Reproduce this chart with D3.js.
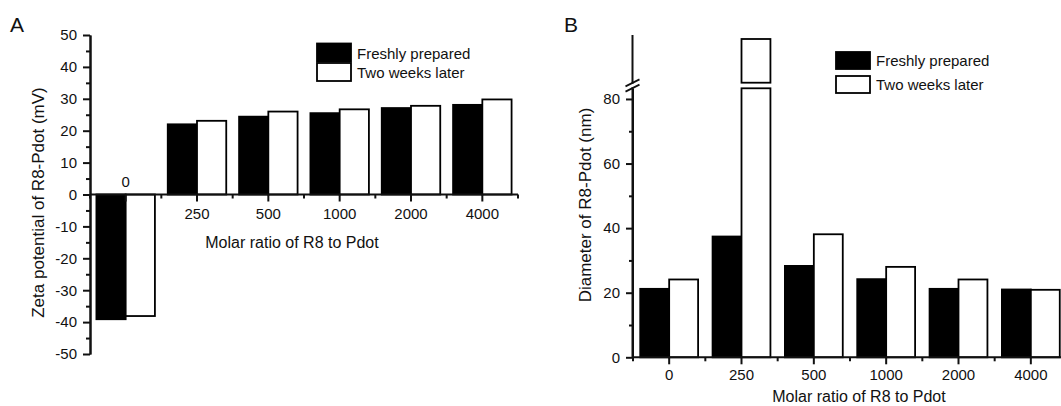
<!DOCTYPE html>
<html>
<head>
<meta charset="utf-8">
<script src="https://cdn.jsdelivr.net/npm/d3@7"></script>
<style>
  body { margin: 0; background: #fff; }
  svg text { font-family: "Liberation Sans", Arial, sans-serif; fill: #111; }
</style>
</head>
<body>
<div id="chart"></div>
<script>
const ratios = ["0", "250", "500", "1000", "2000", "4000"];
const seriesNames = ["Freshly prepared", "Two weeks later"];
const seriesFill = ["#000", "#fff"];

// panel A: zeta potential (mV)
const zetaFresh = [-39.1, 22.0, 24.4, 25.5, 27.1, 28.1];
const zetaLater = [-38.1, 23.1, 26.0, 26.7, 27.8, 29.8];
const zetaTicks = [-50, -40, -30, -20, -10, 0, 10, 20, 30, 40, 50];
const zetaMinor = [-45, -35, -25, -15, -5, 5, 15, 25, 35, 45];

// panel B: diameter (nm), axis broken above 80
const diamFresh = [21.2, 37.4, 28.3, 24.2, 21.2, 21.0];
const diamLater = [24.1, 227, 38.1, 28.0, 24.1, 20.9];
const diamTicks = [0, 20, 40, 60, 80];
const diamMinor = [10, 30, 50, 70];
const breakLow = 83.3, breakHigh = 85, diamTop = 240;

const svg = d3.select("#chart").append("svg")
    .attr("width", 1061)
    .attr("height", 406);

function styleAxis(g) {
    g.select(".domain").attr("stroke", "#111").attr("stroke-width", 2);
    g.selectAll(".tick line").attr("stroke", "#111").attr("stroke-width", 2);
    g.selectAll(".tick text").style("font-size", "15px").attr("fill", "#111");
}

function bars(g, x, y, values, i, clipTop) {
    const w = x.bandwidth() / 2;
    g.selectAll(".bar" + i)
        .data(values)
        .enter()
        .append("rect")
        .attr("class", "bar" + i)
        .attr("x", (d, k) => x(ratios[k]) + i * w)
        .attr("y", d => y(Math.min(Math.max(d, 0), clipTop)))
        .attr("width", w)
        .attr("height", d => Math.abs(y(Math.min(d, clipTop)) - y(0)))
        .attr("fill", seriesFill[i])
        .attr("stroke", "#000")
        .attr("stroke-width", 1.8);
}

function minorX(g, x, y0) {
    const step = x.step();
    const pad = step * x.paddingInner() / 2;
    g.selectAll(".minorx")
        .data(ratios.map(r => x(r) - pad).concat([x(ratios[5]) + x.bandwidth() + pad]))
        .enter()
        .append("line")
        .attr("x1", d => d).attr("x2", d => d)
        .attr("y1", y0).attr("y2", y0 + 4)
        .attr("stroke", "#111").attr("stroke-width", 2);
}

function legend(g, x0, y0, rowH, gap) {
    seriesNames.forEach((name, i) => {
        g.append("rect")
            .attr("x", x0).attr("y", y0 + i * (rowH + gap))
            .attr("width", 34).attr("height", rowH)
            .attr("fill", seriesFill[i])
            .attr("stroke", "#000").attr("stroke-width", 1.8);
        g.append("text")
            .attr("x", x0 + 40).attr("y", y0 + i * (rowH + gap) + rowH - 3)
            .style("font-size", "15px")
            .text(name);
    });
}

// plain hyphen for negative labels, like the original
const plain = d => String(d);

// ---------- panel A ----------
const gA = svg.append("g");

const xA = d3.scaleBand().domain(ratios).range([90, 518]).paddingInner(0.18).paddingOuter(0.09);
const yA = d3.scaleLinear().domain([-50, 50]).range([354, 35]);

bars(gA, xA, yA, zetaFresh, 0, Infinity);
bars(gA, xA, yA, zetaLater, 1, Infinity);

gA.append("g")
    .attr("transform", "translate(90,0)")
    .call(d3.axisLeft(yA).tickValues(zetaMinor).tickSize(4).tickSizeOuter(0).tickFormat(""))
    .call(styleAxis);
gA.append("g")
    .attr("transform", "translate(90,0)")
    .call(d3.axisLeft(yA).tickValues(zetaTicks).tickSize(7).tickSizeOuter(0).tickPadding(6).tickFormat(plain))
    .call(styleAxis);

const axA = gA.append("g")
    .attr("transform", "translate(0," + yA(0) + ")")
    .call(d3.axisBottom(xA).tickSize(7).tickSizeOuter(0).tickPadding(7))
    .call(styleAxis);
axA.select(".domain").attr("d", "M90,0H518");
// the first category label sits above the zero line
axA.selectAll(".tick").filter(d => d === "0").select("text")
    .attr("y", -8).attr("dy", 0);
minorX(gA, xA, yA(0));

gA.append("text")
    .attr("transform", "translate(38," + (yA(0) + 8) + ") rotate(-90)")
    .attr("dy", "0.35em")
    .style("text-anchor", "middle")
    .style("font-size", "17px")
    .text("Zeta potential of R8-Pdot (mV)");

gA.append("text")
    .attr("x", 292).attr("y", 248)
    .style("text-anchor", "middle")
    .style("font-size", "16px")
    .text("Molar ratio of R8 to Pdot");

gA.append("text")
    .attr("x", 10).attr("y", 32)
    .style("font-size", "21px")
    .text("A");

legend(gA, 317, 43.5, 18, 1.5);

// ---------- panel B ----------
const gB = svg.append("g");

const xB = d3.scaleBand().domain(ratios).range([633, 1067]).paddingInner(0.2).paddingOuter(0.1);
const yB = d3.scaleLinear().domain([0, breakLow]).range([357.3, 88.3]);
const yBTop = d3.scaleLinear().domain([breakHigh, diamTop]).range([82.7, 35]);

bars(gB, xB, yB, diamFresh, 0, breakLow);
bars(gB, xB, yB, diamLater, 1, breakLow);

// part of the bars above the break
const wB = xB.bandwidth() / 2;
gB.selectAll(".barTop")
    .data(diamLater.map((d, k) => ({ d: d, k: k })).filter(o => o.d > breakHigh))
    .enter()
    .append("rect")
    .attr("x", o => xB(ratios[o.k]) + wB)
    .attr("y", o => yBTop(o.d))
    .attr("width", wB)
    .attr("height", o => yBTop(breakHigh) - yBTop(o.d))
    .attr("fill", "#fff")
    .attr("stroke", "#000")
    .attr("stroke-width", 1.8);

gB.append("g")
    .attr("transform", "translate(632.5,0)")
    .call(d3.axisLeft(yB).tickValues(diamMinor).tickSize(3.5).tickSizeOuter(0).tickFormat(""))
    .call(styleAxis);
const ayB = gB.append("g")
    .attr("transform", "translate(632.5,0)")
    .call(d3.axisLeft(yB).tickValues(diamTicks).tickSize(6.5).tickSizeOuter(0).tickPadding(6).tickFormat(plain))
    .call(styleAxis);
ayB.select(".domain").attr("d", "M0," + yB(0) + "V" + (yB(breakLow) - 1));
gB.append("g")
    .attr("transform", "translate(632.5,0)")
    .call(d3.axisLeft(yBTop).tickValues([]).tickSizeOuter(0))
    .call(styleAxis)
    .select(".domain").attr("d", "M0," + (yBTop(breakHigh) + 1) + "V" + yBTop(diamTop));

// break marks
const yBreak = (yB(breakLow) + yBTop(breakHigh)) / 2;
[-2.6, 2.6].forEach(off => {
    gB.append("line")
        .attr("x1", 632.5 - 7).attr("y1", yBreak + off + 3.5)
        .attr("x2", 632.5 + 7).attr("y2", yBreak + off - 3.5)
        .attr("stroke", "#111").attr("stroke-width", 1.8);
});

gB.append("g")
    .attr("transform", "translate(0," + yB(0) + ")")
    .call(d3.axisBottom(xB).tickSize(7).tickSizeOuter(0).tickPadding(5.5))
    .call(styleAxis)
    .select(".domain").attr("d", "M632.5,0H1061");
minorX(gB, xB, yB(0));

gB.append("text")
    .attr("transform", "translate(585,205) rotate(-90)")
    .attr("dy", "0.35em")
    .style("text-anchor", "middle")
    .style("font-size", "17px")
    .text("Diameter of R8-Pdot (nm)");

gB.append("text")
    .attr("x", 859).attr("y", 402)
    .style("text-anchor", "middle")
    .style("font-size", "16px")
    .text("Molar ratio of R8 to Pdot");

gB.append("text")
    .attr("x", 564).attr("y", 32)
    .style("font-size", "21px")
    .text("B");

legend(gB, 836, 52, 17, 7);
</script>
</body>
</html>
